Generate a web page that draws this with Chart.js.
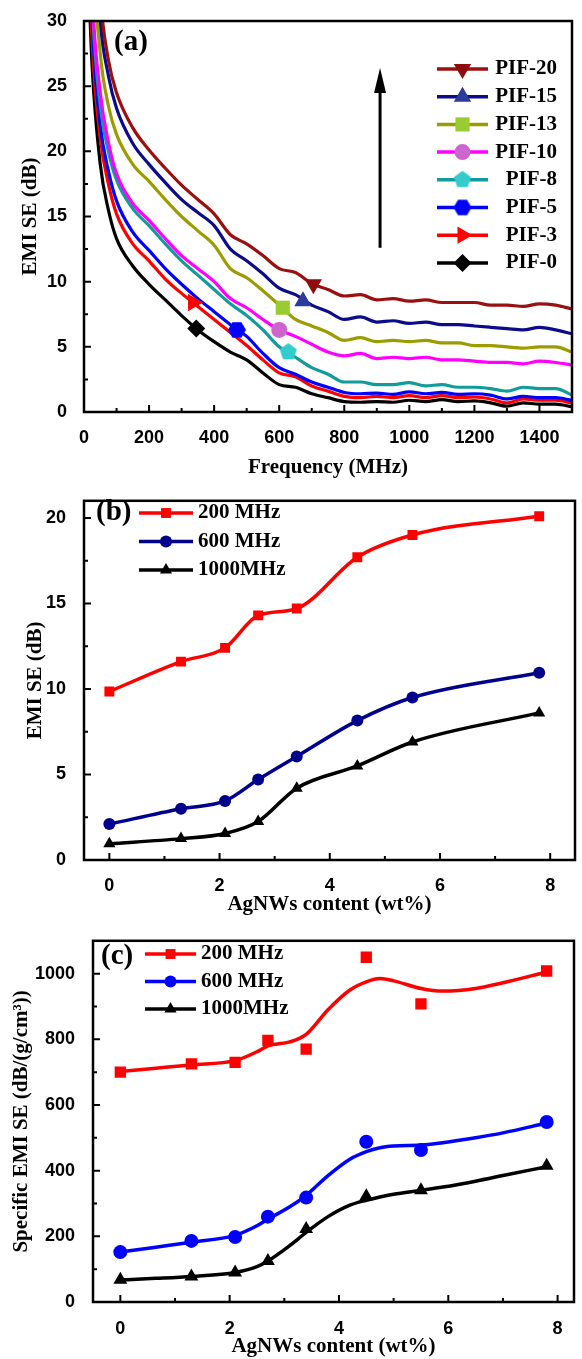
<!DOCTYPE html>
<html>
<head>
<meta charset="utf-8">
<title>EMI SE of PIF films</title>
<script src="https://cdn.jsdelivr.net/npm/chart.js@4.4.1/dist/chart.umd.min.js"></script>
<style>
  html, body { margin: 0; padding: 0; background: #ffffff; }
  body { position: relative; width: 582px; height: 1359px; overflow: hidden; }
  canvas { position: absolute; left: 0; }
  #chartA { top: 0; }
  #chartB { top: 480px; }
  #chartC { top: 920px; }
</style>
</head>
<body>
<canvas id="chartA" width="582" height="480"></canvas>
<canvas id="chartB" width="582" height="440"></canvas>
<canvas id="chartC" width="582" height="439"></canvas>
<script>
// ---- panel (a): EMI SE against frequency for each film ----
var freq = [10, 25, 50, 75, 100, 150, 200, 250, 300, 350, 400, 450, 500, 550, 600, 650, 700, 750, 800, 850, 900, 950, 1000, 1050, 1100, 1150, 1200, 1250, 1300, 1350, 1400, 1450, 1500];
var pif0  = [36, 26.5, 19, 15.5, 13.3, 11.2, 9.8, 8.6, 7.4, 6.3, 5.4, 4.6, 4.0, 3.0, 2.1, 1.9, 1.4, 1.1, 0.8, 0.75, 0.8, 0.75, 0.9, 0.8, 0.95, 0.8, 0.85, 0.7, 0.45, 0.7, 0.6, 0.6, 0.4];
var pif3  = [40, 28.5, 21, 17.5, 15.2, 12.9, 11.6, 10.2, 9.1, 8.1, 7.1, 6.1, 5.1, 4.0, 3.0, 2.7, 2.0, 1.6, 1.2, 1.1, 1.2, 1.1, 1.25, 1.1, 1.25, 1.1, 1.15, 1.0, 0.7, 1.0, 0.9, 0.9, 0.7];
var pif5  = [42, 30, 22, 18.5, 16.2, 13.8, 12.4, 11.0, 9.8, 8.7, 7.7, 6.7, 5.8, 4.5, 3.4, 2.9, 2.3, 1.9, 1.5, 1.4, 1.45, 1.35, 1.55, 1.4, 1.5, 1.35, 1.4, 1.3, 1.0, 1.2, 1.1, 1.1, 0.9];
var pif8  = [45, 31.5, 23.5, 20, 17.8, 15.6, 14.3, 12.9, 11.6, 10.5, 9.4, 8.3, 7.4, 6.3, 5.0, 4.2, 3.4, 2.9, 2.3, 2.3, 2.1, 2.1, 2.25, 2.0, 2.1, 1.9, 1.9, 1.8, 1.6, 1.9, 1.8, 1.8, 1.3];
var pif10 = [47, 32.5, 24.5, 20.7, 18.3, 16.0, 14.7, 13.3, 12.0, 11.0, 10.0, 8.7, 8.0, 7.1, 6.3, 5.8, 5.2, 4.6, 4.3, 4.5, 4.1, 4.2, 4.1, 4.2, 4.0, 4.0, 3.9, 3.8, 3.8, 3.7, 3.9, 3.8, 3.6];
var pif13 = [55, 37, 27.5, 23.5, 21.3, 19.0, 17.7, 16.3, 15.0, 13.9, 12.8, 11.0, 10.3, 9.3, 8.2, 7.1, 6.6, 6.1, 5.5, 5.7, 5.4, 5.5, 5.4, 5.5, 5.3, 5.3, 5.1, 5.1, 5.0, 4.9, 5.0, 5.0, 4.6];
var pif15 = [62, 41, 30, 25.8, 23.3, 20.6, 19.0, 17.6, 16.3, 15.3, 14.3, 12.5, 11.6, 10.6, 9.5, 9.0, 8.2, 7.7, 7.1, 7.3, 6.9, 7.0, 6.8, 6.9, 6.7, 6.7, 6.6, 6.5, 6.4, 6.3, 6.5, 6.3, 6.0];
var pif20 = [70, 45, 32, 27, 24.5, 21.8, 20.1, 18.7, 17.4, 16.3, 15.2, 13.6, 12.9, 12.0, 11.0, 10.7, 9.85, 9.4, 8.9, 9.0, 8.6, 8.7, 8.5, 8.6, 8.4, 8.4, 8.4, 8.2, 8.2, 8.1, 8.3, 8.2, 7.9];
var sampleNames = ['PIF-20', 'PIF-15', 'PIF-13', 'PIF-10', 'PIF-8', 'PIF-5', 'PIF-3', 'PIF-0'];
var seBySample = [pif20, pif15, pif13, pif10, pif8, pif5, pif3, pif0];
var markerFreq = [705, 673, 611, 600, 628, 470, 335, 345];
var markerSE = [9.8, 8.5, 8.0, 6.3, 4.6, 6.3, 8.4, 6.4];
var freqTicks = [0, 200, 400, 600, 800, 1000, 1200, 1400];
var freqMinor = [100, 300, 500, 700, 900, 1100, 1300];
var seTicksA = [0, 5, 10, 15, 20, 25, 30];
var seMinorA = [2.5, 7.5, 12.5, 17.5, 22.5, 27.5];
var arrowFreq = 910, arrowFrom = 12.6, arrowTo = 26.4;

// ---- panels (b) and (c): against AgNWs content ----
var agContent = [0, 1.3, 2.1, 2.7, 3.4, 4.5, 5.5, 7.8];
var freqNames = ['200 MHz', '600 MHz', '1000MHz'];
var se200  = [9.85, 11.6, 12.4, 14.3, 14.7, 17.7, 19.0, 20.1];
var se600  = [2.1, 3.0, 3.45, 4.7, 6.05, 8.15, 9.5, 10.95];
var se1000 = [0.95, 1.25, 1.55, 2.25, 4.2, 5.5, 6.9, 8.6];
var sse200  = [700, 725, 730, 797, 770, 1050, 908, 1008];
var sse600  = [152, 186, 198, 260, 318, 488, 463, 548];
var sse1000 = [68, 78, 90, 125, 222, 322, 340, 415];
// smoothed curves drawn through the specific SE points
var fitContent = [0, 0.65, 1.3, 2.1, 2.5, 2.7, 3.1, 3.4, 3.8, 4.2, 4.5, 4.75, 5.0, 5.5, 5.9, 6.5, 7.0, 7.8];
var fit200  = [702, 712, 722, 735, 762, 780, 792, 815, 890, 950, 975, 985, 978, 955, 947, 955, 972, 1005];
var fit600  = [152, 167, 182, 203, 232, 252, 290, 325, 385, 435, 458, 470, 475, 478, 485, 500, 515, 545];
var fit1000 = [67, 72, 78, 90, 108, 125, 172, 212, 260, 295, 310, 320, 328, 340, 350, 368, 385, 412];
var contentTicks = [0, 2, 4, 6, 8];
var contentMinor = [1, 3, 5, 7];
var seTicksB = [0, 5, 10, 15, 20];
var seMinorB = [2.5, 7.5, 12.5, 17.5];
var sseTicks = [0, 200, 400, 600, 800, 1000];
var sseMinor = [100, 300, 500, 700, 900];

var tickFont = { family: '"Liberation Sans", Arial, sans-serif', size: 18, weight: 'bold' };
var titleFont = { family: '"Liberation Serif", "Times New Roman", serif', size: 21, weight: 'bold' };
var keyFont = 'bold 21px "Liberation Serif", "Times New Roman", serif';
var tagFont = 'bold 29px "Liberation Serif", "Times New Roman", serif';

// pentagon / hexagon markers are not built in, so draw them once
function polygonMarker(sides, r, color, turn) {
    var c = document.createElement('canvas');
    c.width = c.height = Math.ceil(2 * r + 2);
    var g = c.getContext('2d'), m = c.width / 2;
    g.fillStyle = color;
    g.beginPath();
    for (var k = 0; k < sides; k++) {
        var t = turn + k * 2 * Math.PI / sides;
        g.lineTo(m + r * Math.cos(t), m + r * Math.sin(t));
    }
    g.closePath();
    g.fill();
    return c;
}

var lineColors = ['#9a1010', '#0c0c8a', '#9c9c00', '#ff00ff', '#129b9b', '#0000ff', '#ff0000', '#000000'];
var markerColors = ['#8e0c0c', '#2b3a9b', '#99cc33', '#cc66cc', '#33cccc', '#0000ff', '#ff0000', '#000000'];
var markerShapes = [
    { style: 'triangle', rotation: 180, radius: 10 },
    { style: 'triangle', rotation: 0, radius: 10 },
    { style: 'rect', rotation: 0, radius: 10 },
    { style: 'circle', rotation: 0, radius: 8 },
    { style: polygonMarker(5, 9, '#33cccc', -Math.PI / 2), rotation: 0, radius: 9 },
    { style: polygonMarker(6, 9, '#0000ff', 0), rotation: 0, radius: 9 },
    { style: 'triangle', rotation: 90, radius: 10 },
    { style: 'rectRot', rotation: 0, radius: 9 }
];

// frame round the plot area with inward ticks
var framePlugin = {
    id: 'frame',
    afterDatasetsDraw: function(chart, args, opts) {
        var ctx = chart.ctx, a = chart.chartArea;
        var xs = chart.scales.x, ys = chart.scales.y;
        ctx.save();
        ctx.strokeStyle = '#000';
        ctx.lineWidth = 2;
        ctx.beginPath();
        opts.xMajor.forEach(function(v) { var p = xs.getPixelForValue(v); ctx.moveTo(p, a.bottom); ctx.lineTo(p, a.bottom - 7); });
        opts.xMinor.forEach(function(v) { var p = xs.getPixelForValue(v); ctx.moveTo(p, a.bottom); ctx.lineTo(p, a.bottom - 4); });
        opts.yMajor.forEach(function(v) { var p = ys.getPixelForValue(v); ctx.moveTo(a.left, p); ctx.lineTo(a.left + 7, p); });
        opts.yMinor.forEach(function(v) { var p = ys.getPixelForValue(v); ctx.moveTo(a.left, p); ctx.lineTo(a.left + 4, p); });
        ctx.stroke();
        ctx.lineWidth = 2.5;
        ctx.strokeRect(a.left, a.top, a.right - a.left, a.bottom - a.top);
        ctx.restore();
    }
};

// hand made key: line with the marker in the middle, plus the panel tag
var keyPlugin = {
    id: 'key',
    afterDraw: function(chart, args, opts) {
        var ctx = chart.ctx;
        ctx.save();
        opts.items.forEach(function(it, i) {
            var y = opts.y + i * opts.dy;
            ctx.strokeStyle = it.line;
            ctx.lineWidth = opts.lineWidth;
            ctx.beginPath();
            ctx.moveTo(opts.x0, y);
            ctx.lineTo(opts.x1, y);
            ctx.stroke();
            ctx.fillStyle = it.fill;
            Chart.helpers.drawPoint(ctx, { pointStyle: it.style, radius: it.radius, rotation: it.rotation || 0, borderWidth: 0 }, (opts.x0 + opts.x1) / 2, y);
            ctx.fillStyle = '#000';
            ctx.font = keyFont;
            ctx.textAlign = opts.align;
            ctx.textBaseline = 'middle';
            ctx.fillText(it.text, opts.textX, y);
        });
        ctx.fillStyle = '#000';
        ctx.font = tagFont;
        ctx.textAlign = 'left';
        ctx.textBaseline = 'middle';
        ctx.fillText(opts.tag, opts.tagX, opts.tagY);
        ctx.restore();
    }
};

// the arrow in panel (a)
var arrowPlugin = {
    id: 'arrow',
    afterDraw: function(chart, args, opts) {
        if (!opts.show) return;
        var ctx = chart.ctx;
        var x = chart.scales.x.getPixelForValue(opts.x);
        var y0 = chart.scales.y.getPixelForValue(opts.from);
        var y1 = chart.scales.y.getPixelForValue(opts.to);
        ctx.save();
        ctx.strokeStyle = '#000';
        ctx.fillStyle = '#000';
        ctx.lineWidth = 3;
        ctx.beginPath();
        ctx.moveTo(x, y0);
        ctx.lineTo(x, y1 + 20);
        ctx.stroke();
        ctx.beginPath();
        ctx.moveTo(x, y1);
        ctx.lineTo(x - 6, y1 + 25);
        ctx.lineTo(x + 6, y1 + 25);
        ctx.closePath();
        ctx.fill();
        ctx.restore();
    }
};

function axes(o) {
    return {
        x: {
            type: 'linear', min: o.xMin, max: o.xMax,
            grid: { display: false }, border: { display: false },
            afterBuildTicks: function(s) { s.ticks = o.xTicks.map(function(v) { return { value: v }; }); },
            afterFit: function(s) { s.height = o.xHeight; },
            ticks: { font: tickFont, color: '#000', padding: o.xPad, autoSkip: false, maxRotation: 0, callback: function(v) { return String(v); } },
            title: { display: true, text: o.xTitle, font: titleFont, color: '#000', padding: 0 }
        },
        y: {
            type: 'linear', min: o.yMin, max: o.yMax,
            grid: { display: false }, border: { display: false },
            afterBuildTicks: function(s) { s.ticks = o.yTicks.map(function(v) { return { value: v }; }); },
            afterFit: function(s) { s.width = o.yWidth; },
            ticks: { font: tickFont, color: '#000', padding: o.yPad, autoSkip: false, callback: function(v) { return String(v); } },
            title: { display: true, text: o.yTitle, font: titleFont, color: '#000', padding: 0 }
        }
    };
}

function pairs(xs, ys) {
    return xs.map(function(x, k) { return { x: x, y: ys[k] }; });
}

// ---- chart (a) ----
var datasetsA = [];
sampleNames.forEach(function(name, i) {
    datasetsA.push({
        label: name, data: pairs(freq, seBySample[i]),
        borderColor: lineColors[i], borderWidth: 3.2, pointRadius: 0,
        cubicInterpolationMode: 'monotone', clip: 0, order: 1
    });
});
sampleNames.forEach(function(name, i) {
    datasetsA.push({
        label: name + ' marker', data: [{ x: markerFreq[i], y: markerSE[i] }],
        showLine: false, pointStyle: markerShapes[i].style, rotation: markerShapes[i].rotation,
        pointRadius: markerShapes[i].radius, backgroundColor: markerColors[i],
        borderColor: markerColors[i], borderWidth: 0, order: 0
    });
});

new Chart(document.getElementById('chartA'), {
    type: 'line',
    data: { datasets: datasetsA },
    options: {
        responsive: false, animation: false, events: [],
        layout: { padding: { left: 18, top: 21, right: 3, bottom: 0 } },
        scales: axes({
            xMin: 0, xMax: 1500, xTicks: freqTicks, xHeight: 68, xPad: 7, xTitle: 'Frequency (MHz)',
            yMin: 0, yMax: 30, yTicks: seTicksA, yWidth: 66, yPad: 9, yTitle: 'EMI SE (dB)'
        }),
        plugins: {
            legend: { display: false }, tooltip: { enabled: false },
            frame: { xMajor: freqTicks, xMinor: freqMinor, yMajor: seTicksA, yMinor: seMinorA },
            arrow: { show: true, x: arrowFreq, from: arrowFrom, to: arrowTo },
            key: {
                items: sampleNames.map(function(name, i) {
                    return { text: name, line: lineColors[i], fill: markerColors[i], style: markerShapes[i].style, rotation: markerShapes[i].rotation, radius: markerShapes[i].radius };
                }),
                x0: 437, x1: 488, y: 69, dy: 27.7, textX: 557, align: 'right', lineWidth: 3.5,
                tag: '(a)', tagX: 114, tagY: 43
            }
        }
    },
    plugins: [framePlugin, keyPlugin, arrowPlugin]
});

// ---- chart (b) ----
var colorsB = ['#ff0000', '#00008c', '#000000'];
var colorsC = ['#ff0000', '#0000ff', '#000000'];
var stylesBC = [{ style: 'rect', radius: 7 }, { style: 'circle', radius: 6 }, { style: 'triangle', radius: 7 }];
var seB = [se200, se600, se1000];

new Chart(document.getElementById('chartB'), {
    type: 'line',
    data: {
        datasets: freqNames.map(function(name, i) {
            return {
                label: name, data: pairs(agContent, seB[i]),
                borderColor: colorsB[i], backgroundColor: colorsB[i], borderWidth: 3.5,
                pointStyle: stylesBC[i].style, pointRadius: stylesBC[i].radius, pointBorderWidth: 0,
                cubicInterpolationMode: 'monotone'
            };
        })
    },
    options: {
        responsive: false, animation: false, events: [],
        layout: { padding: { left: 23, top: 7, right: 2, bottom: 3 } },
        scales: axes({
            xMin: -0.46, xMax: 8.45, xTicks: contentTicks, xHeight: 57, xPad: 7, xTitle: 'AgNWs content (wt%)',
            yMin: 0, yMax: 21, yTicks: seTicksB, yWidth: 61, yPad: 10, yTitle: 'EMI SE (dB)'
        }),
        plugins: {
            legend: { display: false }, tooltip: { enabled: false },
            frame: { xMajor: contentTicks, xMinor: contentMinor, yMajor: seTicksB, yMinor: seMinorB },
            key: {
                items: freqNames.map(function(name, i) {
                    return { text: name, line: colorsB[i], fill: colorsB[i], style: stylesBC[i].style, radius: stylesBC[i].radius };
                }),
                x0: 139, x1: 193, y: 33, dy: 28.5, textX: 198, align: 'left', lineWidth: 3.5,
                tag: '(b)', tagX: 96, tagY: 33
            }
        }
    },
    plugins: [framePlugin, keyPlugin]
});

// ---- chart (c) ----
var sseC = [sse200, sse600, sse1000];
var fitC = [fit200, fit600, fit1000];
var datasetsC = [];
freqNames.forEach(function(name, i) {
    datasetsC.push({
        label: name + ' fit', data: pairs(fitContent, fitC[i]),
        borderColor: colorsC[i], borderWidth: 3.5, pointRadius: 0,
        cubicInterpolationMode: 'monotone', order: 1
    });
    datasetsC.push({
        label: name, data: pairs(agContent, sseC[i]), showLine: false,
        backgroundColor: colorsC[i], borderColor: colorsC[i],
        pointStyle: stylesBC[i].style, pointRadius: stylesBC[i].radius + 1, pointBorderWidth: 0, order: 0
    });
});

new Chart(document.getElementById('chartC'), {
    type: 'line',
    data: { datasets: datasetsC },
    options: {
        responsive: false, animation: false, events: [],
        layout: { padding: { left: 9, top: 13, right: 2, bottom: 0 } },
        scales: axes({
            xMin: -0.5, xMax: 8.3, xTicks: contentTicks, xHeight: 57, xPad: 8, xTitle: 'AgNWs content (wt%)',
            yMin: 0, yMax: 1100, yTicks: sseTicks, yWidth: 84, yPad: 10, yTitle: 'Specific EMI SE (dB/(g/cm\u00B3))'
        }),
        plugins: {
            legend: { display: false }, tooltip: { enabled: false },
            frame: { xMajor: contentTicks, xMinor: contentMinor, yMajor: sseTicks, yMinor: sseMinor },
            key: {
                items: freqNames.map(function(name, i) {
                    return { text: name, line: colorsC[i], fill: colorsC[i], style: stylesBC[i].style, radius: stylesBC[i].radius };
                }),
                x0: 145, x1: 196, y: 34, dy: 27.5, textX: 201, align: 'left', lineWidth: 3.5,
                tag: '(c)', tagX: 101, tagY: 37
            }
        }
    },
    plugins: [framePlugin, keyPlugin]
});
</script>
</body>
</html>
